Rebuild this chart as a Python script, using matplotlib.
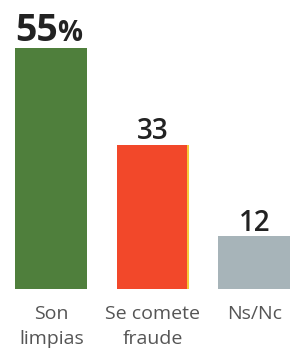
import matplotlib
matplotlib.use("Agg")
import matplotlib.pyplot as plt

categories = ["Son\nlimpias", "Se comete\nfraude", "Ns/Nc"]
values = [55, 33, 12]
value_labels = ["55", "33", "12"]
colors = ["#4f7f3c", "#f2482a", "#a7b4b9"]

fig = plt.figure(figsize=(2.9, 3.58), dpi=100)
ax = fig.add_axes([0, 69 / 358, 1, 289 / 358])

x = list(range(len(values)))
ax.bar(x, values, width=0.71, color=colors, edgecolor="none")
# thin yellow edge on right of the red bar
ax.bar(1 + 0.355 - 0.02, values[1], width=0.04, color="#f7c93a", edgecolor="none")
ax.bar(1 + 0.355 - 0.035, values[1], width=0.03, color=colors[1], edgecolor="none")

ax.set_xlim(-0.507, 2.35)
ax.set_ylim(0, 66)
ax.axis("off")

for i, v in enumerate(values):
    if i == 0:
        ax.text(i + 0.06, v + 1.6, value_labels[i], ha="right", va="baseline", fontsize=27,
                fontweight="bold", color="#222222", family="Open Sans")
        ax.text(i + 0.06, v + 1.6, "%", ha="left", va="baseline", fontsize=20,
                fontweight="bold", color="#222222", family="Open Sans")
    else:
        ax.text(i, v + 1.3, value_labels[i], ha="center", va="baseline", fontsize=20,
                fontweight="semibold", color="#222222", family="Open Sans")

for i, c in enumerate(categories):
    ax.text(i, -3.7, c, ha="center", va="top", fontsize=14, color="#555555",
            family="Open Sans", linespacing=1.45)

fig.savefig("out.png", dpi=100)
